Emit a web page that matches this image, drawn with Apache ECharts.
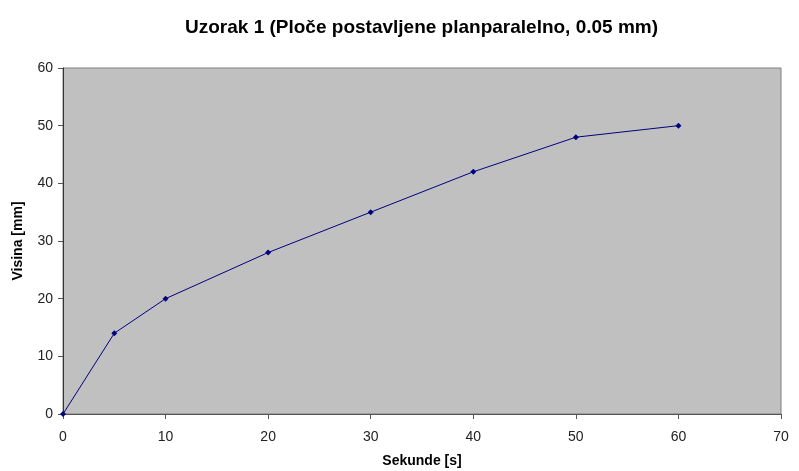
<!DOCTYPE html>
<html>
<head>
<meta charset="utf-8">
<script src="https://cdn.jsdelivr.net/npm/echarts@6/dist/echarts.min.js"></script>
<style>
html,body{margin:0;padding:0;background:#fff;}
#chart{width:799px;height:471px;}
</style>
</head>
<body>
<div id="chart"></div>
<script>
// podaci sa grafika
var sekunde = [0, 5, 10, 20, 30, 40, 50, 60];
var visina = [0, 14, 20, 28, 35, 42, 48, 50];

var points = [];
for (var i = 0; i < sekunde.length; i++) {
    points.push([sekunde[i], visina[i]]);
}

var chart = echarts.init(document.getElementById('chart'));
var option = {
    backgroundColor: '#ffffff',
    animation: false,
    title: {
        text: 'Uzorak 1 (Ploče postavljene planparalelno, 0.05 mm)',
        left: 180,
        top: 13,
        textStyle: {
            fontFamily: 'Liberation Sans, Arial',
            fontSize: 19,
            fontWeight: 'bold',
            color: '#000'
        }
    },
    grid: {
        left: 63,
        right: 18,
        top: 68,
        bottom: 57,
        outerBoundsMode: 'none',
        containLabel: false,
        show: true,
        backgroundColor: '#c0c0c0',
        borderColor: '#808080',
        borderWidth: 1
    },
    xAxis: {
        type: 'value',
        min: 0,
        max: 70,
        interval: 10,
        name: 'Sekunde [s]',
        nameLocation: 'middle',
        nameGap: 40,
        nameTextStyle: {fontFamily: 'Liberation Sans, Arial', fontSize: 14, fontWeight: 'bold', color: '#000'},
        axisLine: {lineStyle: {color: '#555', width: 1}},
        axisTick: {show: true, length: 5, lineStyle: {color: '#555'}},
        axisLabel: {fontFamily: 'Liberation Sans, Arial', fontSize: 14, color: '#222', margin: 16},
        splitLine: {show: false}
    },
    yAxis: {
        type: 'value',
        min: 0,
        max: 60,
        interval: 10,
        name: 'Visina [mm]',
        nameLocation: 'middle',
        nameRotate: 90,
        nameGap: 38,
        nameTextStyle: {fontFamily: 'Liberation Sans, Arial', fontSize: 14, fontWeight: 'bold', color: '#000'},
        axisLine: {show: true, lineStyle: {color: '#333', width: 1}},
        axisTick: {show: true, length: 5, lineStyle: {color: '#555'}},
        axisLabel: {fontFamily: 'Liberation Sans, Arial', fontSize: 14, color: '#222', margin: 10},
        splitLine: {show: false}
    },
    series: [
        {
            name: 'Uzorak 1',
            type: 'line',
            data: points,
            symbol: 'diamond',
            symbolSize: 6,
            lineStyle: {color: '#000080', width: 1},
            itemStyle: {color: '#000080'}
        }
    ]
};
chart.setOption(option);
</script>
</body>
</html>
